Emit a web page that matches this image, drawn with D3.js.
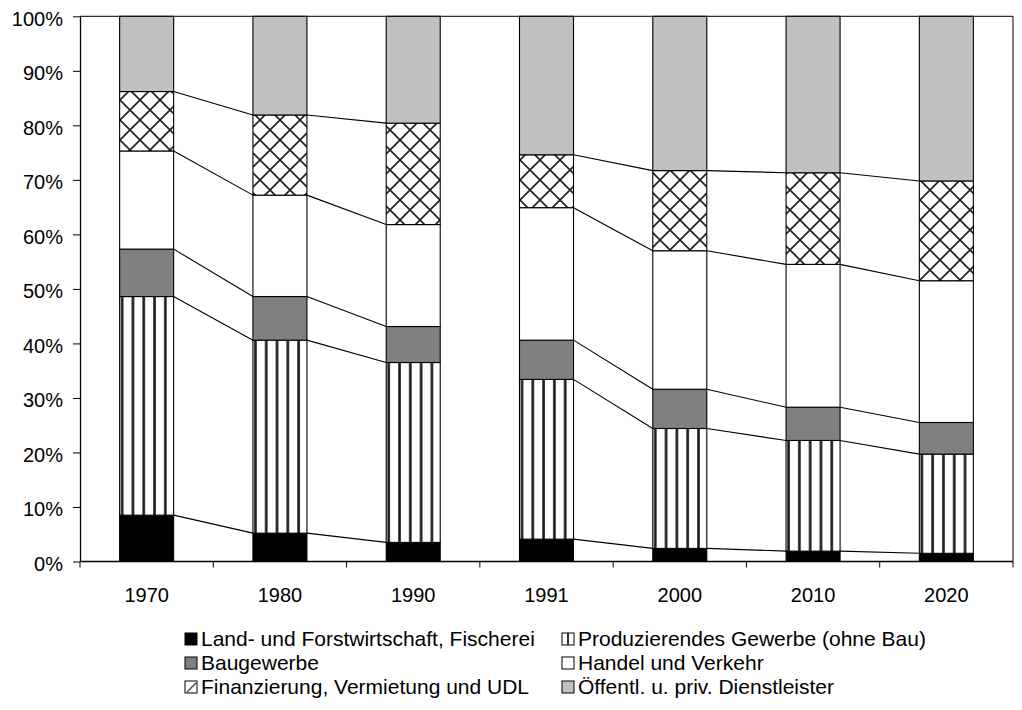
<!DOCTYPE html>
<html>
<head>
<meta charset="utf-8">
<script src="https://cdn.jsdelivr.net/npm/d3@7"></script>
<style>
body { margin: 0; background: #fff; }
text { font-family: "Liberation Sans", Arial, sans-serif; fill: #000; }
</style>
</head>
<body>
<div id="chart"></div>
<script>
// Anteile der Wirtschaftsbereiche (in %)
var years = ["1970", "1980", "1990", "1991", "2000", "2010", "2020"];
var seriesNames = ["Land- und Forstwirtschaft, Fischerei", "Produzierendes Gewerbe (ohne Bau)",
	"Baugewerbe", "Handel und Verkehr", "Finanzierung, Vermietung und UDL", "Öffentl. u. priv. Dienstleister"];
var landForst    = [8.5, 5.2, 3.5, 4.1, 2.4, 1.9, 1.5];
var produzierend = [40.1, 35.4, 33.0, 29.3, 22.0, 20.3, 18.2];
var bau          = [8.7, 8.0, 6.6, 7.2, 7.2, 6.1, 5.8];
var handel       = [18.0, 18.6, 18.7, 24.3, 25.4, 26.2, 26.0];
var finanz       = [10.9, 14.7, 18.6, 9.7, 14.7, 16.8, 18.3];
var dienst       = [13.8, 18.1, 19.6, 25.4, 28.3, 28.7, 30.2];
var yTicks = [0, 10, 20, 30, 40, 50, 60, 70, 80, 90, 100];
// no series lines between 1990 and 1991 (West / Gesamt)
var noLinkAfter = ["1990"];

var fills = ["#000000", "url(#vstripe)", "#808080", "#ffffff", "url(#diamond)", "#c0c0c0"];
var legendFills = ["#000000", "url(#lgStripe)", "#808080", "#ffffff", "url(#lgDiag)", "#c0c0c0"];

var width = 1022, height = 710;
var plotL = 80, plotR = 1013, plotT = 16.3, plotB = 561.5;
var barW = 54;

var allValues = [landForst, produzierend, bau, handel, finanz, dienst];
var rows = years.map(function(yr, i) {
	var r = {year: yr};
	seriesNames.forEach(function(s, j) { r[s] = allValues[j][i]; });
	return r;
});
var stacked = d3.stack().keys(seriesNames)(rows);

var svg = d3.select("#chart")
	.append("svg")
	.attr("width", width)
	.attr("height", height);

// patterns
var defs = svg.append("defs");
var vs = defs.append("pattern")
	.attr("id", "vstripe")
	.attr("patternUnits", "objectBoundingBox")
	.attr("width", 0.2)
	.attr("height", 1);
vs.append("rect").attr("width", 20).attr("height", 600).attr("fill", "#fff");
vs.append("rect").attr("x", 1.2).attr("width", 2.6).attr("height", 600).attr("fill", "#1a1a1a");

var dm = defs.append("pattern")
	.attr("id", "diamond")
	.attr("patternUnits", "userSpaceOnUse")
	.attr("width", 20)
	.attr("height", 20);
dm.append("rect").attr("width", 20).attr("height", 20).attr("fill", "#fff");
dm.append("path")
	.attr("d", "M0,0L20,20M20,0L0,20M-2,18L2,22M18,-2L22,2M-2,2L2,-2M18,22L22,18")
	.attr("stroke", "#222")
	.attr("stroke-width", 1.7);

var ls = defs.append("pattern")
	.attr("id", "lgStripe")
	.attr("patternUnits", "objectBoundingBox")
	.attr("width", 1).attr("height", 1);
ls.append("rect").attr("width", 13).attr("height", 13).attr("fill", "#fff");
ls.append("rect").attr("x", 5).attr("width", 2).attr("height", 13).attr("fill", "#333");

var ld = defs.append("pattern")
	.attr("id", "lgDiag")
	.attr("patternUnits", "objectBoundingBox")
	.attr("width", 1).attr("height", 1);
ld.append("rect").attr("width", 13).attr("height", 13).attr("fill", "#fff");
ld.append("path").attr("d", "M2,11L11,2").attr("stroke", "#444").attr("stroke-width", 1.5);

// scales
var x = d3.scaleBand()
	.domain(years)
	.range([plotL, plotR])
	.padding(0);

var y = d3.scaleLinear()
	.domain([0, 100])
	.range([plotB, plotT]);

var barX = function(yr) { return x(yr) + (x.bandwidth() - barW) / 2; };

// plot frame (top + right)
svg.append("path")
	.attr("d", "M" + plotL + "," + y(100) + "H" + plotR + "V" + y(0))
	.attr("fill", "none")
	.attr("stroke", "#000")
	.attr("stroke-width", 1);

// series lines between neighbouring bars
var links = [];
for (var i = 0; i < years.length - 1; i++) {
	if (noLinkAfter.indexOf(years[i]) >= 0) continue;
	for (var s = 0; s < stacked.length - 1; s++) {
		links.push({x1: barX(years[i]) + barW, x2: barX(years[i + 1]),
			v1: stacked[s][i][1], v2: stacked[s][i + 1][1]});
	}
}
svg.append("g").selectAll("line")
	.data(links)
	.enter()
	.append("line")
	.attr("x1", d => d.x1)
	.attr("x2", d => d.x2)
	.attr("y1", d => y(d.v1))
	.attr("y2", d => y(d.v2))
	.attr("stroke", "#000")
	.attr("stroke-width", 1.1);

// bars
svg.append("g").selectAll("g")
	.data(stacked)
	.enter()
	.append("g")
	.attr("fill", (d, i) => fills[i])
	.selectAll("rect")
	.data(d => d)
	.enter()
	.append("rect")
	.attr("x", d => barX(d.data.year))
	.attr("y", d => y(d[1]))
	.attr("width", barW)
	.attr("height", d => y(d[0]) - y(d[1]))
	.attr("stroke", "#000")
	.attr("stroke-width", 1.1);

// y axis
var yAxis = svg.append("g")
	.attr("transform", "translate(" + plotL + ",0)")
	.call(d3.axisLeft(y).tickValues(yTicks).tickFormat(d => d + "%").tickSize(7).tickSizeOuter(0));
yAxis.select(".domain").attr("stroke", "#000").attr("stroke-width", 1.3);
yAxis.selectAll("text")
	.attr("x", -17)
	.attr("dy", "0.45em")
	.style("font-size", "20px")
	.style("font-family", "'Liberation Sans', Arial, sans-serif");

// x axis with ticks between categories
var xAxis = svg.append("g")
	.attr("transform", "translate(0," + plotB + ")");
xAxis.append("line")
	.attr("x1", plotL).attr("x2", plotR)
	.attr("stroke", "#000").attr("stroke-width", 1.3);
xAxis.selectAll(".tk")
	.data(years.concat(["end"]))
	.enter()
	.append("line")
	.attr("class", "tk")
	.attr("x1", (d, i) => i < years.length ? x(d) : plotR)
	.attr("x2", (d, i) => i < years.length ? x(d) : plotR)
	.attr("y1", 0).attr("y2", 6)
	.attr("stroke", "#000");
xAxis.selectAll("text")
	.data(years)
	.enter()
	.append("text")
	.attr("x", d => x(d) + x.bandwidth() / 2)
	.attr("y", 40)
	.attr("text-anchor", "middle")
	.style("font-size", "20px")
	.text(d => d);

// legend
var legCols = [185, 562];
var legRows = [633, 657, 681];
var legend = svg.append("g").selectAll("g")
	.data(seriesNames)
	.enter()
	.append("g")
	.attr("transform", function(d, i) {
		return "translate(" + legCols[i % 2] + "," + legRows[Math.floor(i / 2)] + ")";
	});
legend.append("rect")
	.attr("width", 12)
	.attr("height", 12)
	.attr("fill", (d, i) => legendFills[i])
	.attr("stroke", "#000")
	.attr("stroke-width", 1);
legend.append("text")
	.attr("x", 16)
	.attr("y", 13)
	.style("font-size", "21px")
	.text(d => d);
</script>
</body>
</html>
